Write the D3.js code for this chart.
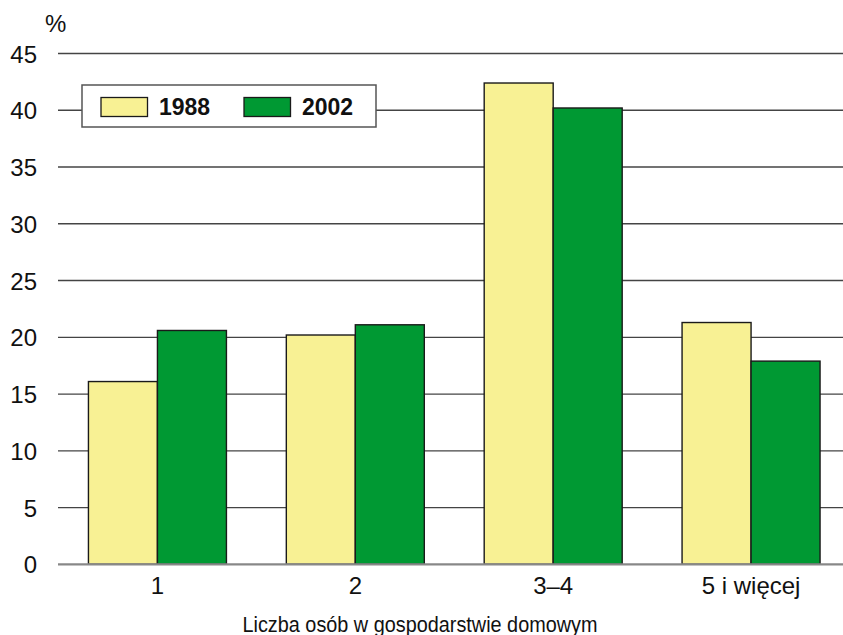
<!DOCTYPE html>
<html>
<head>
<meta charset="utf-8">
<script src="https://cdn.jsdelivr.net/npm/d3@7"></script>
<style>
  html, body { margin: 0; padding: 0; background: #fff; }
  svg { display: block; font-family: "Liberation Sans", Arial, sans-serif; }
</style>
</head>
<body>
<svg id="chart" width="843" height="635"></svg>
<script>
const categories = ["1", "2", "3–4", "5 i więcej"];
const seriesNames = ["1988", "2002"];
const values1988 = [16.1, 20.2, 42.4, 21.3];
const values2002 = [20.6, 21.1, 40.2, 17.9];
const yTicks = [0, 5, 10, 15, 20, 25, 30, 35, 40, 45];
const colors = ["#F8F194", "#009933"];
const xTitle = "Liczba osób w gospodarstwie domowym";
const yUnit = "%";

const svg = d3.select("#chart");
const W = 843;

const y = d3.scaleLinear().domain([0, 45]).range([564.3, 53.5]);
const x = d3.scaleBand().domain(categories).range([58.5, 850]).paddingInner(0).paddingOuter(0);
const xs = d3.scaleBand().domain(seriesNames).range([0, x.bandwidth()]).paddingInner(0).paddingOuter(0.434);

const data = categories.map((c, i) => ({ cat: c, vals: [values1988[i], values2002[i]] }));

// gridlines
svg.append("g").selectAll("line").data(yTicks.filter(t => t > 0)).join("line")
  .attr("x1", 58).attr("x2", W)
  .attr("y1", d => y(d)).attr("y2", d => y(d))
  .attr("stroke", "#444").attr("stroke-width", 1.3);

// y tick labels
svg.append("g").selectAll("text").data(yTicks).join("text")
  .attr("x", 37).attr("y", d => y(d) + 9)
  .attr("text-anchor", "end")
  .attr("font-size", 24).attr("fill", "#111")
  .text(d => d);

// bars
const g = svg.append("g");
data.forEach(d => {
  g.selectAll(null).data(d.vals.map((v, j) => ({ v, s: seriesNames[j], j }))).join("rect")
    .attr("x", e => x(d.cat) + xs(e.s))
    .attr("width", xs.bandwidth())
    .attr("y", e => y(e.v))
    .attr("height", e => y(0) - y(e.v))
    .attr("fill", e => colors[e.j])
    .attr("stroke", "#1a1a1a").attr("stroke-width", 1.4);
});

// baseline
svg.append("line").attr("x1", 58).attr("x2", W).attr("y1", y(0)).attr("y2", y(0))
  .attr("stroke", "#888").attr("stroke-width", 2.2);

// x tick labels
svg.append("g").selectAll("text").data(categories).join("text")
  .attr("x", d => x(d) + x.bandwidth() / 2).attr("y", 593.5)
  .attr("text-anchor", "middle").attr("font-size", 24).attr("fill", "#111")
  .text(d => d);

// x title
svg.append("text").attr("x", 420).attr("y", 631.5).attr("text-anchor", "middle")
  .attr("font-size", 22).attr("fill", "#111")
  .attr("textLength", 355).attr("lengthAdjust", "spacingAndGlyphs")
  .text(xTitle);

// y unit
svg.append("text").attr("x", 45).attr("y", 31.5).attr("font-size", 24).attr("fill", "#111").text(yUnit);

// legend
const lg = svg.append("g");
lg.append("rect").attr("x", 82).attr("y", 85).attr("width", 294).attr("height", 42)
  .attr("fill", "#fff").attr("stroke", "#555").attr("stroke-width", 1.5);
const legendX = [101, 244];
seriesNames.forEach((s, j) => {
  lg.append("rect").attr("x", legendX[j]).attr("y", 97.5).attr("width", 46.5).attr("height", 19)
    .attr("fill", colors[j]).attr("stroke", "#1a1a1a").attr("stroke-width", 1.3);
  lg.append("text").attr("x", legendX[j] + 58).attr("y", 115)
    .attr("font-size", 23).attr("font-weight", "bold").attr("fill", "#111").text(s);
});
</script>
</body>
</html>
